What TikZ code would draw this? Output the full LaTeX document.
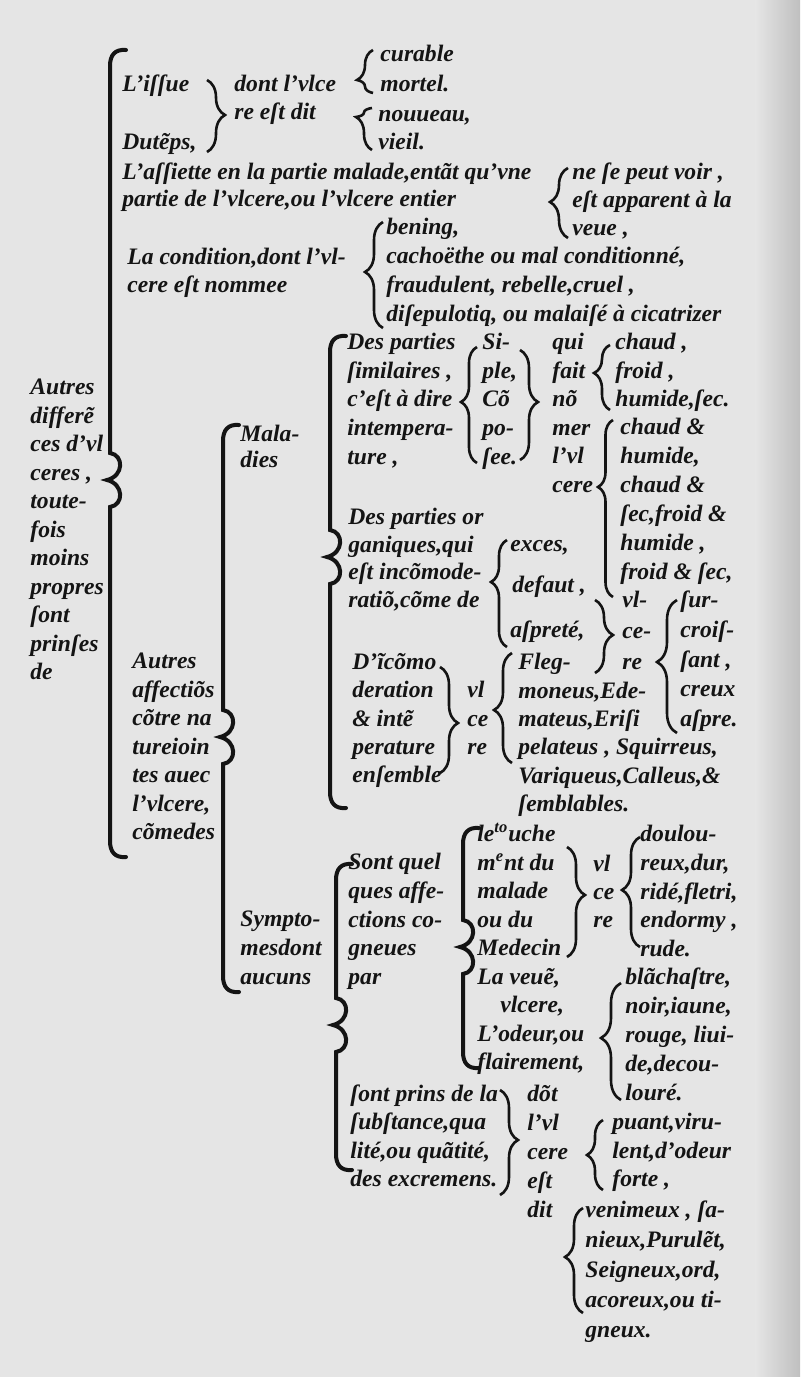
\documentclass[tikz,border=0pt]{standalone}
\usepackage{fontspec}
\setmainfont{Liberation Serif}
\usetikzlibrary{decorations.pathreplacing}

\definecolor{paper}{gray}{0.9}
\definecolor{ink}{gray}{0.08}
\newcommand\itfnt{\fontsize{11.8}{14}\selectfont\bfseries\itshape}

% column of text lines: name, x, first y, step, lines
\newcommand\colines[5]{%
  \foreach \t [count=\i from 0] in {#5}
    \node[txt] (#1-\i) at ({#2},{#3+#4*\i}) {\t};}

% curly brace, tip to the left: x, top, bottom, tip, width
\newcommand\brl[5]{%
  \pgfmathsetmacro\basp{(#3-#4)/(#3-#2)}%
  \pgfmathsetmacro\bamp{#5/2}%
  \draw[brc, decoration={brace, amplitude=\bamp pt, aspect=\basp}] (#1,#3) -- (#1,#2);}

% curly brace, tip to the right: x, top, bottom, tip, width
\newcommand\brr[5]{%
  \pgfmathsetmacro\basp{(#4-#2)/(#3-#2)}%
  \pgfmathsetmacro\bamp{#5/2}%
  \draw[brc, decoration={brace, amplitude=\bamp pt, aspect=\basp}] (#1,#2) -- (#1,#3);}

% long bracket with hooks: x, top, tip, bottom
\newcommand\bigbrk[4]{%
  \draw[brkline] ({#1+16},#2) .. controls ({#1+5},{#2-1}) and (#1,{#2+5}) .. (#1,{#2+16})
    -- (#1,{#3-27}) .. controls ({#1+14},{#3-25}) and ({#1+14},{#3-4}) .. ({#1-3},#3)
    .. controls ({#1+14},{#3+4}) and ({#1+14},{#3+25}) .. (#1,{#3+27})
    -- (#1,{#4-16}) .. controls (#1,{#4-5}) and ({#1+5},{#4+1}) .. ({#1+16},#4);}

\begin{document}
\begin{tikzpicture}[x=0.5pt, y=-0.5pt,
    txt/.style={anchor=mid west, inner sep=0pt, font=\itfnt, text=ink},
    brc/.style={decorate, draw=ink, line width=1.3pt},
    brkline/.style={draw=ink, line width=2pt, line cap=round}]
    \useasboundingbox (0,0) rectangle (800,1377);

    % Page
    \fill[paper] (0,0) rectangle (800,1377);
    \shade[left color=paper, right color=gray!50] (755,0) rectangle (800,1377);

    % Left column
    \colines{autres}{30}{390}{28.5}{Autres, differẽ, ces d’vl, {ceres ,}, toute-, fois, moins, propres, ſont, prinſes, de}
    \bigbrk{110}{50}{480}{857}

    % Issue and time
    \node[txt] (issue) at (122,87) {L’iſſue};
    \node[txt] (temps) at (122,145) {Dutẽps,};
    \brr{207}{80}{152}{115}{18}
    \node[txt] (dont) at (234,87) {dont l’vlce};
    \node[txt] (estdit) at (234,115) {re eſt dit};
    \brl{373}{50}{93}{80}{16}
    \node[txt] (curable) at (380,57) {curable};
    \node[txt] (mortel) at (380,87) {mortel.};
    \brl{372}{108}{150}{117}{16}
    \node[txt] (nouueau) at (378,117) {nouueau,};
    \node[txt] (vieil) at (378,145) {vieil.};

    % Seat of the ulcer
    \colines{aſſiette}{122}{175}{27}{{L’aſſiette en la partie malade,entãt qu’vne}, {partie de l’vlcere,ou l’vlcere entier}}
    \brl{568}{168}{238}{202}{18}
    \colines{voir}{572}{175}{28}{{ne ſe peut voir ,}, eſt apparent à la, {veue ,}}

    % Condition
    \colines{cond}{127}{260}{28}{{La condition,dont l’vl-}, cere eſt nommee}
    \brl{383}{222}{328}{272}{18}
    \colines{bening}{386}{230}{29}{{bening,}, {cachoëthe ou mal conditionné,}, {fraudulent, rebelle,cruel ,}, {diſepulotiq, ou malaiſé à cicatrizer}}

    % Other affections
    \colines{affect}{132}{664}{28.5}{Autres, affectiõs, cõtre na, tureioin, tes auec, {l’vlcere,}, cõmedes}
    \bigbrk{223}{425}{737}{992}
    \colines{malad}{240}{437}{26}{Mala-, dies}
    \colines{sympt}{240}{922}{29}{Sympto-, mesdont, aucuns}

    % Maladies
    \bigbrk{330}{336}{557}{808}
    \colines{simil}{347}{345}{28.7}{Des parties, {ſimilaires ,}, c’eſt à dire, intempera-, {ture ,}}
    \brl{477}{347}{463}{402}{16}
    \colines{simple}{482}{345}{28.7}{Si-, {ple,}, Cõ, po-, ſee.}
    \brr{520}{350}{460}{402}{18}
    \colines{quifait}{552}{345}{28.6}{qui, fait, nõ, mer, l’vl, cere}
    \brl{610}{345}{410}{373}{16}
    \colines{chaud}{615}{345}{28.5}{{chaud ,}, {froid ,}, {humide,ſec.}}
    \brl{613}{420}{597}{487}{15}
    \colines{mixte}{620}{430}{29}{chaud \&, {humide,}, chaud \&, {ſec,froid \&}, {humide ,}, {froid \& ſec,}}

    \colines{organ}{348}{520}{27.7}{Des parties or, {ganiques,qui}, eſt incõmode-, {ratiõ,cõme de}}
    \brl{507}{540}{647}{582}{16}
    \node[txt] (exces) at (510,547) {exces,};
    \node[txt] (defaut) at (512,588) {defaut ,};
    \node[txt] (aſpreté) at (510,633) {aſpreté,};
    \brr{595}{600}{673}{635}{18}
    \colines{vlce}{622}{603}{31}{vl-, ce-, re}
    \brl{677}{600}{733}{662}{20}
    \colines{ſurcr}{680}{603}{29.8}{ſur-, croiſ-, {ſant ,}, creux, aſpre.}

    \colines{incom}{352}{665}{28.3}{D’ĩcõmo, deration, \& intẽ, perature, enſemble}
    \brr{440}{667}{773}{723}{18}
    \colines{vlcb}{467}{693}{28.5}{vl, ce, re}
    \brl{512}{653}{763}{710}{18}
    \colines{flegm}{518}{665}{28.4}{Fleg-, {moneus,Ede-}, {mateus,Eriſi}, {pelateus , Squirreus,}, {Variqueus,Calleus,\&}, ſemblables.}

    % Symptoms
    \bigbrk{336}{864}{1025}{1170}
    \colines{quel}{348}{865}{28.7}{Sont quel, ques affe-, ctions co-, gneues, par}
    \bigbrk{463}{828}{947}{1068}
    \colines{touche}{477}{837}{28.5}{le\textsuperscript{to}uche, m\textsuperscript{e}nt du, malade, ou du, Medecin, {La veuẽ,}, {\hspace*{11.5pt}vlcere,}, {L’odeur,ou}, {flairement,}}
    \brr{567}{847}{957}{895}{18}
    \colines{vlcc}{593}{867}{28}{vl, ce, re}
    \brl{640}{837}{947}{890}{18}
    \colines{doulou}{640}{837}{28.7}{doulou-, {reux,dur,}, {ridé,fletri,}, {endormy ,}, rude.}
    \brl{621}{983}{1100}{1038}{20}
    \colines{blanc}{625}{980}{29}{{blãchaſtre,}, {noir,iaune,}, {rouge, liui-}, {de,decou-}, louré.}

    \colines{ſubſt}{350}{1097}{28.3}{ſont prins de la, {ſubſtance,qua}, {lité,ou quãtité,}, des excremens.}
    \brr{500}{1090}{1195}{1140}{18}
    \colines{dot}{527}{1097}{29}{dõt, l’vl, cere, eſt, dit}
    \brl{603}{1120}{1190}{1155}{16}
    \colines{puant}{612}{1125}{28.5}{{puant,viru-}, {lent,d’odeur}, {forte ,}}
    \brl{583}{1208}{1313}{1257}{18}
    \colines{venim}{585}{1213}{30}{{venimeux , ſa-}, {nieux,Purulẽt,}, {Seigneux,ord,}, {acoreux,ou ti-}, gneux.}
\end{tikzpicture}
\end{document}
